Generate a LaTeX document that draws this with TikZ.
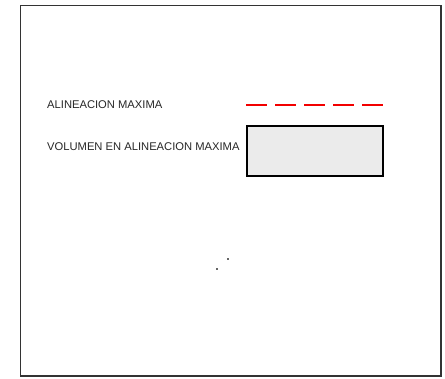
\documentclass[tikz,border=0pt]{standalone}
\usepackage{fontspec}
\setmainfont{Liberation Sans}
\tikzset{
  lframe/.style={draw=black!80,line width=1.5pt},
  llab/.style={font=\fontsize{11.2}{13}\selectfont,text=black!85,anchor=west,inner sep=0pt},
  lmax/.style={draw=lred,line width=2.2pt,dash pattern=on 21pt off 8pt},
  lvol/.style={draw=black,line width=1.3pt,fill=lgray,minimum width=136pt,minimum height=50pt,inner sep=0pt},
  ldot/.style={fill=black!60,minimum size=1.2pt,inner sep=0pt},
}
\colorlet{lred}{red!95!black}
\definecolor{lgray}{HTML}{EBEBEB}
\begin{document}
\begin{tikzpicture}[x=1pt,y=-1pt]
\useasboundingbox (0,0) rectangle (445,379);
% ---- outer frame
\draw[lframe] (20.5,5.5) rectangle (441,376);
% ---- legend: maximum alignment
\node[llab] (maxlab) at (47,105) {ALINEACION MAXIMA};
\coordinate (maxA) at (246,105);
\coordinate (maxB) at (384,105);
\draw[lmax] (maxA) -- (maxB);
% ---- legend: volume
\node[llab] (vollab) at (47,147) {VOLUMEN EN ALINEACION MAXIMA};
\node[lvol] (volbox) at (315,151) {};
% ---- stray marks
\node[ldot] (dotA) at (228,259) {};
\node[ldot] (dotB) at (217,269) {};
\end{tikzpicture}
\end{document}
